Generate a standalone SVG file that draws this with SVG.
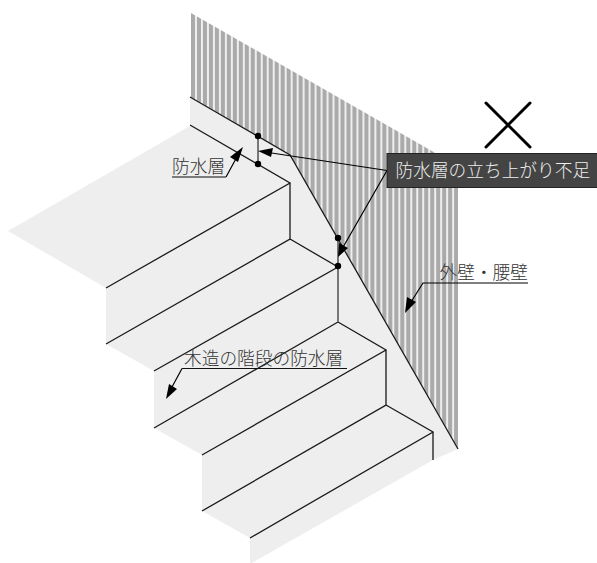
<svg xmlns="http://www.w3.org/2000/svg" width="597" height="563" viewBox="0 0 597 563">
<style>
text{font-family:"Noto Sans CJK JP","Noto Sans",sans-serif;fill:#333;font-size:17.700px;font-weight:300}
.l{stroke:#1a1a1a;stroke-width:1.3;fill:none}
.g{stroke:#777;stroke-width:2;fill:none}
.a{stroke:#000;stroke-width:1.2;fill:none}
.d{fill:#000}
.h{fill:#000}
</style>
<defs>
<pattern id="st" patternUnits="userSpaceOnUse" x="191" y="0" width="5.98" height="10"><rect width="4" height="10" fill="#aaa"/><rect x="4" width="1.980" height="10" fill="#eee"/></pattern>
</defs>
<g id="wall"><polygon points="191,13 458,166 458,449 290,155 191,97" fill="url(#st)"/></g>
<g id="stairs">
<polygon points="190,97 290,155 458,449 433,460 250,564 250,538 202,511 202,455 154,428 154,371 106,344 106,288 8,231 190,126" fill="#eee"/>
</g>
<g id="connectors">
<path class="l" d="M190,97 290,155 458,449M190,125 290,183 106,288M290,183V239L106,344M290,239 338,267 154,371M338,322 154,428M338,322 386,350 202,455M386,350V405L202,511M386,405 433,432 250,538M433,432V460"/>
<path class="g" d="M258,136V164M338,238V322"/>
<circle class="d" cx="258" cy="136" r="3.2"/><circle class="d" cx="258" cy="164" r="3.2"/>
<circle class="d" cx="338" cy="238" r="3.2"/><circle class="d" cx="338" cy="266" r="3.2"/>
<path class="a" d="M387,170.500 265,152M387,170.500 342,249M226,177 238,155M182,368.500 172,387M528,283H423L411,302"/>
<polygon class="h" points="258,151 273,148 271,157"/>
<polygon class="h" points="338,257 339,243 348,248"/>
<polygon class="h" points="243,147 238,162 230,157"/>
<polygon class="h" points="166,399 169,384 177,389"/>
<polygon class="h" points="405,313 407,297 416,302"/>
<path d="M172,177H226" stroke="#555" stroke-width="1.4" fill="none"/>
<path d="M182,368.500H347" stroke="#111" stroke-width="1.2" fill="none"/>
</g>
<g id="cross"><path d="M486,103 530,147M530,103 486,147" stroke="#000" stroke-width="3" stroke-linecap="round" fill="none"/></g>
<g id="label-main"><rect x="387" y="153.500" width="211" height="34" fill="#444" stroke="#222" stroke-width="1"/>
<text x="395.500" y="176.500" style="fill:#eee">防水層の立ち上がり不足</text></g>
<g id="label-bosui"><text x="172" y="172.500">防水層</text></g>
<g id="label-stairs"><text x="184" y="364.500">木造の階段の防水層</text></g>
<g id="label-wall"><text x="439.500" y="278.500">外壁・腰壁</text></g>
</svg>
